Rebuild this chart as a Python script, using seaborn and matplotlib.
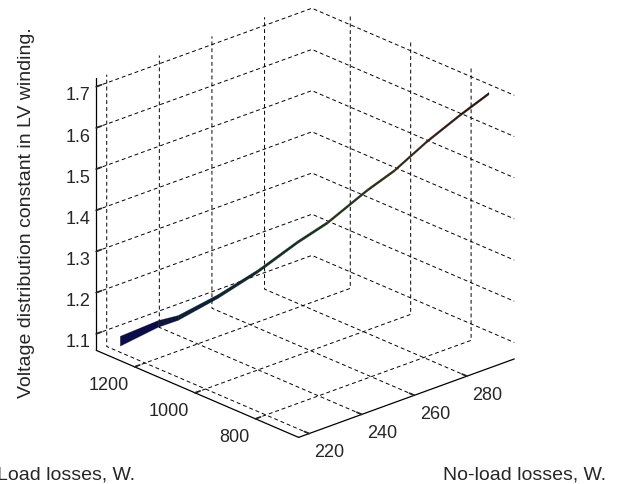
import numpy as np
import matplotlib
matplotlib.use("Agg")
import matplotlib.pyplot as plt
import seaborn as sns
from matplotlib.colors import LinearSegmentedColormap

# ---- data ----
no_load = [220.0, 227.6, 231.6, 239.6, 247.6, 255.6, 261.6, 269.6, 275.0, 281.6, 288.2, 294.0]
load = [1282, 1222.7, 1191.6, 1129.4, 1067.2, 1004.9, 958.3, 896.1, 854.0, 802.8, 750.9, 706]
volt_const = [1.087, 1.130, 1.145, 1.198, 1.260, 1.332, 1.380, 1.460, 1.508, 1.580, 1.645, 1.698]

x_ticks = [220, 240, 260, 280]
y_ticks = [800, 1000, 1200]
z_ticks = [1.1, 1.2, 1.3, 1.4, 1.5, 1.6, 1.7]

x_label = "No-load losses, W."
y_label = "Load losses, W."
z_label = "Voltage distribution constant in LV winding."

# ---- style ----
sns.set_theme(style="white")
plt.rcParams['font.family'] = ['Liberation Sans', 'DejaVu Sans']
plt.rcParams['grid.linestyle'] = (0, (4, 3))
plt.rcParams['grid.color'] = 'black'
plt.rcParams['grid.linewidth'] = 0.7

fig = plt.figure(figsize=(6.33, 4.85), dpi=100)
ax = fig.add_axes([0.0213, 0.0200, 0.9006, 1.0263], projection='3d')
ax.set_proj_type('ortho')
ax.set_box_aspect((0.98, 1, 0.99))
ax.view_init(elev=23.3, azim=-132.6)

nl = np.array(no_load)
ll = np.array(load)
zz = np.array(volt_const)
n = len(nl)
tpos = np.linspace(0, 1, n)
half = 0.003 + 0.009 * np.exp(-tpos / 0.16)  # ribbon half thickness (style)
X = np.vstack([nl, nl])
Y = np.vstack([ll, ll])
Z = np.vstack([zz - half, zz + half])

cmap = LinearSegmentedColormap.from_list(
    "darkjet", sns.blend_palette(["#0b0d4a", "#0b2238", "#123321", "#2b3512", "#3a1a0e", "#2a0808"], 6))
fc = cmap(tpos)
FC = np.stack([fc, fc])
ax.plot_surface(X, Y, Z, facecolors=FC, rstride=1, cstride=1, shade=False,
                linewidth=0.3, edgecolor=(0.05, 0.05, 0.05, 0.5), antialiased=True)

ax.set_xlim(216, 298)
ax.set_ylim(657, 1327)
ax.set_zlim(1.06, 1.72)
ax.set_xticks(x_ticks)
ax.set_yticks(y_ticks)
ax.set_zticks(z_ticks)
ax.set_xticklabels([str(v) for v in x_ticks], fontsize=13, ha='left')
ax.set_yticklabels([str(v) for v in y_ticks], fontsize=13, ha='right')
ax.set_zticklabels([f"{v:.1f}" for v in z_ticks], fontsize=13)
ax.tick_params(axis='x', pad=-3)
ax.tick_params(axis='y', pad=-3)
ax.tick_params(axis='z', pad=0)

for axis in (ax.xaxis, ax.yaxis, ax.zaxis):
    axis.set_pane_color((1, 1, 1, 0))
    axis.pane.set_edgecolor('none')
    axis.line.set_color('black')
    axis.line.set_linewidth(0.9)
    axis._axinfo['grid'].update({'color': 'black', 'linewidth': 0.7, 'linestyle': (0, (4, 3))})
    axis._axinfo['tick']['inward_factor'] = 0.0
    axis._axinfo['tick']['outward_factor'] = 0.3
ax.grid(True)

fig.text(27 / 633, 1 - 213 / 485, z_label, rotation=90, ha='center', va='center', fontsize=14)
fig.text(-3 / 633, 1 - 475 / 485, y_label, ha='left', va='center', fontsize=14)
fig.text(443 / 633, 1 - 475 / 485, x_label, ha='left', va='center', fontsize=14)

fig.savefig("out.png", dpi=100)
